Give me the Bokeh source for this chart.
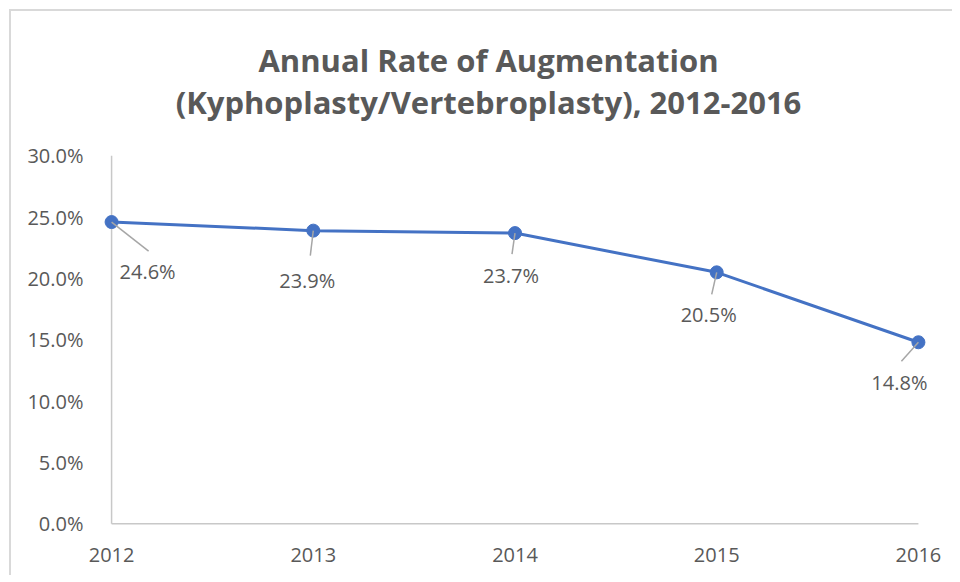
from bokeh.plotting import figure
from bokeh.models import Range1d, FixedTicker, PrintfTickFormatter, ColumnDataSource
from bokeh.embed import file_html
from bokeh.resources import INLINE

years = [2012, 2013, 2014, 2015, 2016]
rates = [24.6, 23.9, 23.7, 20.5, 14.8]
labels = ["24.6%", "23.9%", "23.7%", "20.5%", "14.8%"]
y_ticks = [0, 5, 10, 15, 20, 25, 30]
title_lines = ["Annual Rate of Augmentation", "(Kyphoplasty/Vertebroplasty), 2012-2016"]

# screen-pixel placement of the data labels and leader lines (relative to point)
label_dx = [36, -6, -4, -8, -19]
label_dy = [49, 50, 42, 42, 40]
leader_dx = [37, -3, -3, -5, -17]
leader_dy = [29, 25, 21, 22, 19]

# layout (pixels)
BL, BT, BR, BB = 101, 20, 24, 48
FW, FH = 827, 507
x0, x1 = 2011.95, 2016.05
y0, y1 = -0.3, 41.03
pxx = FW / (x1 - x0)
pxy = FH / (y1 - y0)
title_center_px = 488
title_middle_px = [59, 101]

TEXT = "#595959"

p = figure(frame_width=FW, frame_height=FH, x_range=Range1d(x0, x1), y_range=Range1d(y0, y1),
           output_backend="svg", toolbar_location=None, title=None,
           min_border_left=BL, min_border_right=BR, min_border_top=BT, min_border_bottom=BB)
p.outline_line_color = None
p.xgrid.visible = False
p.ygrid.visible = False
p.background_fill_color = None
p.border_fill_color = None
p.styles = {"box-shadow": "inset 9px 9px 0 white, inset 11px 11px 0 #d9d9d9",
            "background-color": "white"}

# title, drawn inside the (extended) frame
tx = x0 + (title_center_px - BL) / pxx
ty = [y0 + (BT + FH - b) / pxy for b in title_middle_px]
p.text(x=[tx, tx], y=ty, text=title_lines, text_align="center", text_baseline="middle",
       text_font={"value": "Open Sans"}, text_font_style="bold", text_font_size="31px",
       text_color=TEXT)

for ax in (p.xaxis[0], p.yaxis[0]):
    ax.axis_line_color = None
    ax.major_tick_line_color = None
    ax.minor_tick_line_color = None
    ax.major_label_text_font = "Open Sans"
    ax.major_label_text_font_size = "20px"
    ax.major_label_text_color = TEXT

p.xaxis.ticker = FixedTicker(ticks=years)
p.xaxis.major_label_standoff = 14
p.yaxis.ticker = FixedTicker(ticks=y_ticks)
p.yaxis.formatter = PrintfTickFormatter(format="%.1f%%")
p.yaxis.major_label_standoff = 12

# axis lines
p.segment(x0=[years[0], years[0]], y0=[y_ticks[0], y_ticks[0]],
          x1=[years[-1], years[0]], y1=[y_ticks[0], y_ticks[-1]],
          line_color="#c8c8c8", line_width=1.5)

src = ColumnDataSource(dict(
    x=years, y=rates, label=labels,
    lx=[x + dx / pxx for x, dx in zip(years, label_dx)],
    ly=[y - dy / pxy for y, dy in zip(rates, label_dy)],
    ex=[x + dx / pxx for x, dx in zip(years, leader_dx)],
    ey=[y - dy / pxy for y, dy in zip(rates, leader_dy)],
))

p.line("x", "y", source=src, line_color="#4472C4", line_width=3)
p.scatter("x", "y", source=src, size=13, fill_color="#4472C4", line_color="#4472C4")
p.segment(x0="x", y0="y", x1="ex", y1="ey", source=src, line_color="#a6a6a6", line_width=1.5)
p.text("lx", "ly", text="label", source=src, text_align="center", text_baseline="middle",
       text_font={"value": "Open Sans"}, text_font_size="20px", text_color=TEXT)

open("out.html", "w").write(file_html(p, INLINE))
